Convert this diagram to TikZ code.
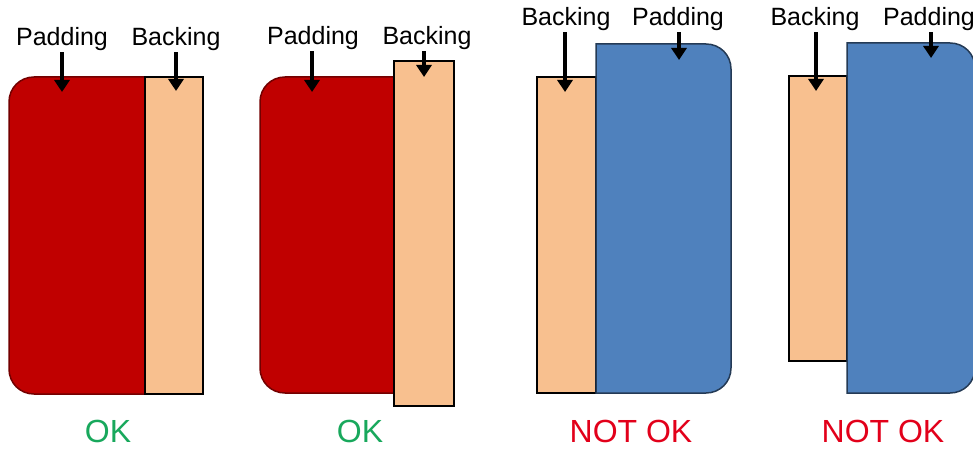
\documentclass[tikz,border=0pt]{standalone}
\usepackage{fontspec}
\setmainfont{Liberation Sans}
\definecolor{padred}{RGB}{192,0,0}
\definecolor{padblue}{RGB}{79,129,189}
\definecolor{backpeach}{RGB}{248,192,143}
\definecolor{okgreen}{RGB}{24,168,92}
\definecolor{nokred}{RGB}{226,0,26}
\usetikzlibrary{arrows.meta,positioning,calc}

\begin{document}
\begin{tikzpicture}[x=1pt, y=-1pt,
  redpad/.style={fill=padred, draw=padred!60!black, line width=1.5pt},
  bluepad/.style={fill=padblue, draw=padblue!45!black, line width=1.5pt},
  backbox/.style={fill=backpeach, draw=black, line width=2pt},
  lbl/.style={font=\fontsize{25}{30}\selectfont, inner sep=1pt, anchor=base},
  okl/.style={font=\fontsize{32}{38}\selectfont, text=okgreen, inner sep=0pt, anchor=base},
  nokl/.style={font=\fontsize{32}{38}\selectfont, text=nokred, inner sep=0pt, anchor=base},
  parr/.style={-{Triangle[width=15pt, length=12pt]}, line width=4.5pt}
]
\useasboundingbox (0,0) rectangle (973,449);

% Case 1: padding wider, backing same height
\draw[redpad] (145,77) -- (34,77) .. controls (20,77) and (9,88) .. (9,102)
  -- (9,369) .. controls (9,383) and (20,394) .. (34,394) -- (145,394) -- cycle;
\draw[backbox] (145,77) rectangle (203,394);

% Case 2: backing taller than padding
\draw[redpad] (394,77) -- (285,77) .. controls (271,77) and (260,88) .. (260,102)
  -- (260,368) .. controls (260,382) and (271,393) .. (285,393) -- (394,393) -- cycle;
\draw[backbox] (394,61) rectangle (454,406);

% Case 3: padding taller than backing
\draw[backbox] (537,77) rectangle (596,393);
\draw[bluepad] (596,44) -- (706,44) .. controls (720,44) and (731,55) .. (731,69)
  -- (731,368) .. controls (731,382) and (720,393) .. (706,393) -- (596,393) -- cycle;

% Case 4: backing shorter on both ends
\draw[backbox] (789,76) rectangle (847,361);
\draw[bluepad] (847,43) -- (950,43) .. controls (964,43) and (975,54) .. (975,68)
  -- (975,368) .. controls (975,382) and (964,393) .. (950,393) -- (847,393) -- cycle;

% Labels
\node[lbl] (lpad1)  at (62,46)  {Padding};
\node[lbl] (lback1) at (176,46) {Backing};
\node[lbl] (lpad2)  at (313,45) {Padding};
\node[lbl] (lback2) at (427,45) {Backing};
\node[lbl] (lback3) at (566,26) {Backing};
\node[lbl] (lpad3)  at (678,26) {Padding};
\node[lbl] (lback4) at (815,26) {Backing};
\node[lbl] (lpad4)  at (929,26) {Padding};

% Arrow tips
\coordinate (tpad1)  at (62,92);
\coordinate (tback1) at (176,91);
\coordinate (tpad2)  at (312,92);
\coordinate (tback2) at (424,77);
\coordinate (tback3) at (565,92);
\coordinate (tpad3)  at (679,60);
\coordinate (tback4) at (816,91);
\coordinate (tpad4)  at (931,58);

% Arrows
\draw[parr] (lpad1.south -| tpad1)   -- (tpad1);
\draw[parr] (lback1.south -| tback1) -- (tback1);
\draw[parr] (lpad2.south -| tpad2)   -- (tpad2);
\draw[parr] (lback2.south -| tback2) -- (tback2);
\draw[parr] (lback3.south -| tback3) -- (tback3);
\draw[parr] (lpad3.south -| tpad3)   -- (tpad3);
\draw[parr] (lback4.south -| tback4) -- (tback4);
\draw[parr] (lpad4.south -| tpad4)   -- (tpad4);

% Verdicts
\node[okl]  (ok1)  at (108,442) {OK};
\node[okl]  (ok2)  at (360,442) {OK};
\node[nokl] (nok3) at (631,442) {NOT OK};
\node[nokl] (nok4) at (883,442) {NOT OK};
\end{tikzpicture}
\end{document}
